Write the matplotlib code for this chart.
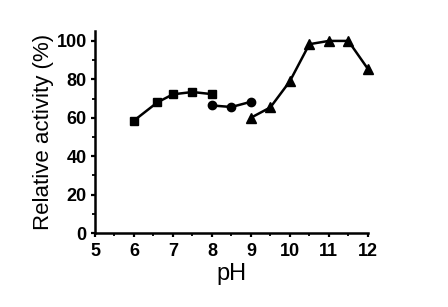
import matplotlib
matplotlib.use("Agg")
import matplotlib.pyplot as plt
from matplotlib.ticker import MultipleLocator

plt.rcParams['font.family'] = ['Liberation Sans', 'DejaVu Sans']

ph_sq = [6.0, 6.6, 7.0, 7.5, 8.0]
act_sq = [58.5, 68.0, 72.2, 73.4, 72.3]
ph_ci = [8.0, 8.5, 9.0]
act_ci = [66.4, 65.6, 68.3]
ph_tr = [9.0, 9.5, 10.0, 10.5, 11.0, 11.5, 12.0]
act_tr = [60.0, 65.4, 79.0, 98.3, 100.0, 100.0, 85.5]

fig = plt.figure(figsize=(4.48, 3.07), dpi=100)
ax = fig.add_axes([0.212, 0.241, 0.609, 0.657])
ax.plot(ph_sq, act_sq, '-s', color='black', lw=1.8, ms=6)
ax.plot(ph_ci, act_ci, '-o', color='black', lw=1.8, ms=6)
ax.plot(ph_tr, act_tr, '-^', color='black', lw=1.8, ms=7, clip_on=False)
ax.set_xlim(5, 12)
ax.set_ylim(0, 105)
ax.xaxis.set_major_locator(MultipleLocator(1))
ax.xaxis.set_minor_locator(MultipleLocator(0.5))
ax.yaxis.set_major_locator(MultipleLocator(20))
ax.yaxis.set_minor_locator(MultipleLocator(10))
for s in ['top', 'right']:
    ax.spines[s].set_visible(False)
for s in ['left', 'bottom']:
    ax.spines[s].set_linewidth(1.8)
ax.tick_params(which='major', direction='out', length=3, width=1.6, labelsize=13)
ax.tick_params(axis='x', which='major', pad=4)
ax.tick_params(axis='y', which='major', pad=3)
ax.tick_params(which='minor', direction='out', length=2, width=1.3)
for lab in ax.get_xticklabels() + ax.get_yticklabels():
    lab.set_fontweight('bold')
ax.set_xlabel('pH', fontsize=17, labelpad=2)
ax.set_ylabel('Relative activity (%)', fontsize=16, labelpad=2)
fig.savefig('out.png', dpi=100)
